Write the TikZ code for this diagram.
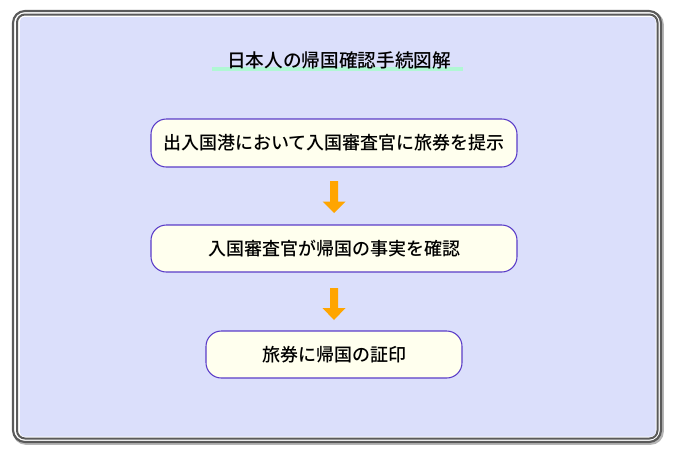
\documentclass[tikz,border=0pt]{standalone}
\usepackage{fontspec}
\usetikzlibrary{calc}
\newfontfamily\jp{Noto Sans CJK JP}
\newfontfamily\jpb{Noto Sans CJK JP Medium}
\definecolor{bgl}{HTML}{DBDFFB}
\definecolor{cream}{HTML}{FFFFEE}
\definecolor{bord}{HTML}{5A3CC8}
\definecolor{arr}{HTML}{FFA500}
\definecolor{frm}{HTML}{5A5A5A}
\definecolor{ul}{HTML}{B0F7D4}
\tikzset{
  stepbox/.style={draw=bord, line width=0.8pt, fill=cream, rounded corners=11.5pt, inner sep=0pt, font=\jpb\fontsize{13.5pt}{16pt}\selectfont, text=black},
  downarr/.style={draw=none, fill=arr}
}
\begin{document}
\begin{tikzpicture}[x=0.75pt,y=-0.75pt]
\useasboundingbox (0,0) rectangle (673,450);
\fill[white] (0,0) rectangle (673,450);
% frame
\draw[frm!45, line width=2pt, rounded corners=9pt] (14,12.5) rectangle (662.5,443.5);
\draw[frm, line width=1.6pt, fill=white, rounded corners=9pt] (13,11) rectangle (661,442);
\draw[frm, line width=1.5pt, rounded corners=6pt] (17,14.5) rectangle (657.5,438.5);
\fill[bgl, rounded corners=3pt] (20,17) rectangle (655.5,436.5);
% title
\fill[ul] (212,67) rectangle (463,71);
\node[font=\jpb\fontsize{14pt}{16pt}\selectfont, inner sep=0pt] (title) at (339,60) {日本人の帰国確認手続図解};
% boxes
\node[stepbox, minimum width=366*0.75pt, minimum height=48*0.75pt] (b1) at (334,143) {出入国港において入国審査官に旅券を提示};
\node[stepbox, minimum width=366*0.75pt, minimum height=47*0.75pt] (b2) at (334,248.5) {入国審査官が帰国の事実を確認};
\node[stepbox, minimum width=256*0.75pt, minimum height=47*0.75pt] (b3) at (334,354.5) {旅券に帰国の証印};
% arrows
\fill[downarr] (330,181) -- (338,181) -- (338,201.5) -- (345.5,201.5) -- (334,213) -- (322.5,201.5) -- (330,201.5) -- cycle;
\fill[downarr] (330,288) -- (338,288) -- (338,308) -- (345.5,308) -- (334,320) -- (322.5,308) -- (330,308) -- cycle;
\end{tikzpicture}
\end{document}
